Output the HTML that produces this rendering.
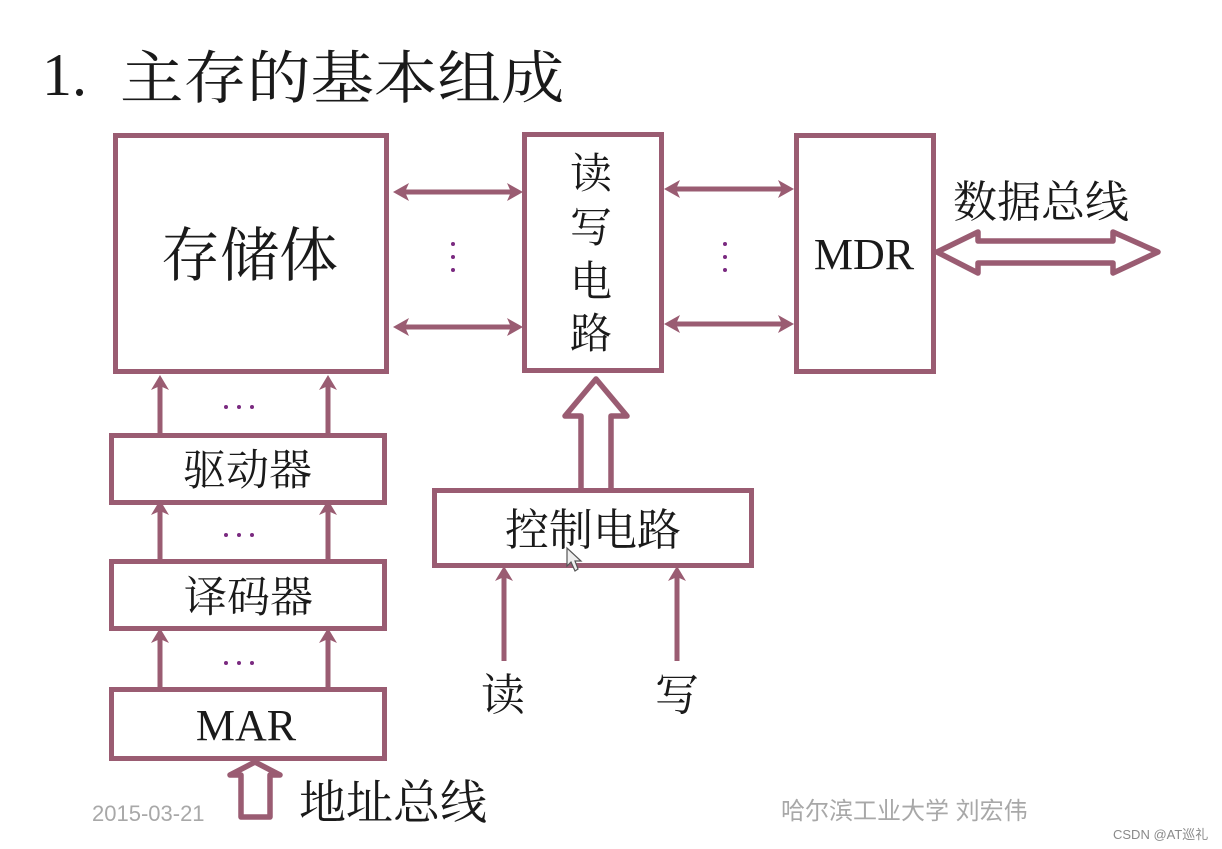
<!DOCTYPE html>
<html>
<head>
<meta charset="utf-8">
<style>
html,body{margin:0;padding:0;background:#fff;width:1222px;height:849px;overflow:hidden}
svg{display:block}
text{font-family:"Liberation Serif","Noto Serif CJK SC",serif;fill:#1a1a1a}
.b{fill:none;stroke:#9a5c72;stroke-width:5}
.l{fill:none;stroke:#9a5c72;stroke-width:5}
.f{fill:#9a5c72;stroke:none}
.w{fill:#fff;stroke:#9a5c72;stroke-width:5.500;stroke-linejoin:round}
.d{fill:#7a2a80}
</style>
</head>
<body>
<svg width="1222" height="849" viewBox="0 0 1222 849" xmlns="http://www.w3.org/2000/svg">
<rect width="1222" height="849" fill="#fff"/>

<text x="42" y="95" font-size="60">1.</text>
<text transform="translate(120 98) scale(1 0.9)" x="0" y="0" font-size="63.500">主存的基本组成</text>

<!-- hollow arrows -->
<path class="w" d="M581 492V416H565L596 379L627 416H611V492"/>
<path class="w" d="M937 252L978 232V241H1113V232L1158 252L1113 273V263H978V273Z"/>
<path class="w" d="M241 817V775H230L255 762L280 775H270V817Z"/>

<!-- boxes -->
<rect class="b" x="115.500" y="135.500" width="271" height="236"/>
<rect class="b" x="524.500" y="134.500" width="137" height="236"/>
<rect class="b" x="796.500" y="135.500" width="137" height="236"/>
<rect class="b" x="111.500" y="435.500" width="273" height="67"/>
<rect class="b" x="111.500" y="561.500" width="273" height="67"/>
<rect class="b" x="111.500" y="689.500" width="273" height="69"/>
<rect fill="#fff" class="b" x="434.500" y="490.500" width="317" height="75"/>

<!-- horizontal double arrows -->
<g>
<path class="l" d="M398 192H518M398 327H518M669 189H789M669 324H789"/>
<path class="f" d="M393 192l16-9-4 9 4 9zM523 192l-16-9 4 9-4 9zM393 327l16-9-4 9 4 9zM523 327l-16-9 4 9-4 9zM664 189l16-9-4 9 4 9zM794 189l-16-9 4 9-4 9zM664 324l16-9-4 9 4 9zM794 324l-16-9 4 9-4 9z"/>
</g>

<!-- dots -->
<g class="d">
<circle cx="453" cy="244" r="2"/><circle cx="453" cy="257" r="2"/><circle cx="453" cy="270" r="2"/>
<circle cx="725" cy="244" r="2"/><circle cx="725" cy="257" r="2"/><circle cx="725" cy="270" r="2"/>
<circle cx="226" cy="407" r="2"/><circle cx="239" cy="407" r="2"/><circle cx="252" cy="407" r="2"/>
<circle cx="226" cy="535" r="2"/><circle cx="239" cy="535" r="2"/><circle cx="252" cy="535" r="2"/>
<circle cx="226" cy="663" r="2"/><circle cx="239" cy="663" r="2"/><circle cx="252" cy="663" r="2"/>
</g>

<!-- up arrows -->
<path class="b" d="M160 433V385M328 433V385M160 559V510M328 559V510M160 687V638M328 687V638M504 661V575M677 661V575"/>
<path class="f" d="M160 375l-9 15 9-4 9 4zM328 375l-9 15 9-4 9 4zM160 500l-9 15 9-4 9 4zM328 500l-9 15 9-4 9 4zM160 628l-9 15 9-4 9 4zM328 628l-9 15 9-4 9 4zM504 566l-9 15 9-4 9 4zM677 566l-9 15 9-4 9 4z"/>

<!-- labels -->
<text x="161" y="276" font-size="59">存储体</text>
<g font-size="42" text-anchor="middle">
<text x="591" y="188">读</text>
<text x="591" y="242">写</text>
<text x="591" y="296">电</text>
<text x="591" y="348">路</text>
</g>
<text x="864" y="269" font-size="44" text-anchor="middle">MDR</text>
<text x="953" y="217" font-size="44">数据总线</text>
<text x="183" y="485" font-size="43">驱动器</text>
<text x="184" y="612" font-size="43">译码器</text>
<text x="246" y="740" font-size="44" text-anchor="middle">MAR</text>
<text x="505" y="545" font-size="44">控制电路</text>
<text x="481" y="710" font-size="44">读</text>
<text x="655" y="710" font-size="44">写</text>
<text x="299" y="819" font-size="47">地址总线</text>

<text x="92" y="821" font-size="22" style="font-family:'Liberation Sans',sans-serif;fill:#a8a8a8">2015-03-21</text>
<text x="781" y="819" font-size="24" style="font-family:'Liberation Sans','Noto Sans CJK SC',sans-serif;fill:#a8a8a8">哈尔滨工业大学 刘宏伟</text>
<text x="1113" y="839" font-size="13" style="font-family:'Liberation Sans','Noto Sans CJK SC',sans-serif;fill:#8a8a8a">CSDN @AT巡礼</text>

<!-- cursor -->
<path d="M567 548V566L571 562L575 571L578 569L575 561H581Z" fill="#eee" stroke="#555" stroke-width="1.200"/>
</svg>
</body>
</html>
